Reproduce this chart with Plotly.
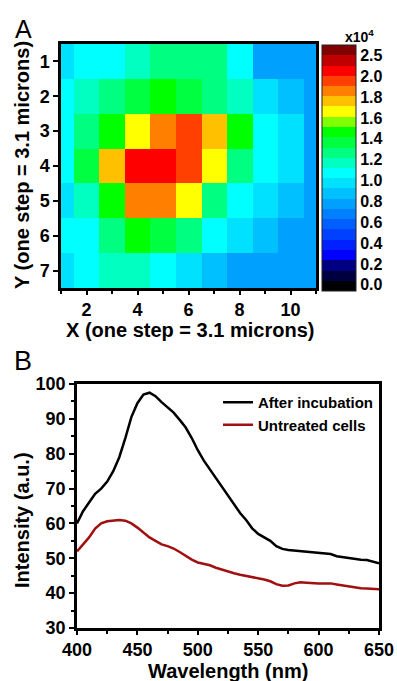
import plotly.graph_objects as go

# ---------------- Panel A data (intensity, x10^4) ----------------
grid_x = [1, 2, 3, 4, 5, 6, 7, 8, 9, 10, 11]
grid_y = [1, 2, 3, 4, 5, 6, 7]
intensity_map = [
    [0.97, 1.07, 1.07, 1.17, 1.27, 1.27, 1.27, 1.07, 0.78, 0.78, 0.78],
    [1.07, 1.17, 1.27, 1.37, 1.46, 1.37, 1.27, 1.17, 0.97, 0.87, 0.78],
    [1.07, 1.27, 1.46, 1.66, 1.86, 1.96, 1.76, 1.46, 1.07, 0.97, 0.78],
    [1.07, 1.37, 1.76, 2.05, 2.05, 1.96, 1.66, 1.27, 1.07, 0.97, 0.78],
    [0.97, 1.17, 1.46, 1.86, 1.86, 1.66, 1.27, 1.07, 0.97, 0.87, 0.78],
    [1.07, 1.07, 1.27, 1.46, 1.37, 1.27, 1.07, 0.97, 0.87, 0.78, 0.78],
    [0.97, 1.07, 1.17, 1.17, 1.07, 0.97, 0.87, 0.78, 0.78, 0.78, 0.78],
]
band_colors = [
    "#000000", "#000040", "#000080", "#0000FF", "#0020FF", "#0040FF",
    "#0060FF", "#0080FF", "#00A0FF", "#00C0FF", "#00E0FF", "#00FFFF",
    "#00FFC0", "#00FF80", "#00FF40", "#00FF00", "#80FF00", "#FFFF00",
    "#FFC000", "#FF8000", "#FF4000", "#FF0000", "#C00000", "#800000",
]
cbar_tickvals = [0.0, 0.2, 0.4, 0.6, 0.8, 1.0, 1.2, 1.4, 1.6, 1.8, 2.0, 2.2]
cbar_ticktext = ["0.0", "0.2", "0.4", "0.6", "0.8", "1.0", "1.2", "1.4", "1.6", "1.8", "2.0", "2.5"]

# ---------------- Panel B data ----------------
wavelength = list(range(400, 651, 5))
after_incubation = [
    60, 63.5, 66, 68.5, 70, 72, 75, 79, 84.5, 90.5, 94.5, 97, 97.5, 96.5, 94.8,
    93.2, 91.8, 89.7, 87.5, 84.5, 81, 78, 75.5, 73, 70.5, 68, 65.5, 63, 61,
    58.6, 57, 56, 55, 53.5, 52.7, 52.4, 52.2, 52.1, 51.9, 51.7, 51.6, 51.4,
    51.2, 50.6, 50.3, 50, 49.8, 49.6, 49.5, 49.1, 48.6,
]
untreated = [
    52, 54, 56, 58.5, 60, 60.6, 60.8, 61, 60.8, 60, 58.8, 57.4, 56, 55, 54,
    53.5, 52.8, 51.8, 50.6, 49.6, 48.8, 48.4, 48, 47.3, 46.7, 46.2, 45.7, 45.3,
    45, 44.7, 44.3, 43.9, 43.4, 42.6, 42.1, 42.2, 42.8, 43.1, 43, 42.8, 42.8,
    42.8, 42.8, 42.5, 42.2, 41.9, 41.6, 41.4, 41.3, 41.2, 41.1,
]

W, H = 397, 681
FONT = "Liberation Sans, Arial, sans-serif"

def px_x(p):
    return p / W

def px_y(p):
    return 1 - p / H

n = len(band_colors)
colorscale = []
for k, c in enumerate(band_colors):
    colorscale.append([k / n, c])
    colorscale.append([(k + 1) / n, c])

fig = go.Figure()

fig.add_trace(go.Heatmap(
    x=grid_x, y=grid_y, z=intensity_map,
    colorscale=colorscale, zmin=-0.06, zmax=2.3, zsmooth=False,
    xaxis="x", yaxis="y",
    colorbar=dict(
        x=px_x(322), xanchor="left", xpad=0,
        y=px_y(45), yanchor="top", ypad=0,
        lenmode="pixels", len=246, thickness=34,
        tickmode="array", tickvals=cbar_tickvals, ticktext=cbar_ticktext,
        ticks="",
        tickfont=dict(family=FONT, size=16, color="black", weight="bold"),
        outlinewidth=1, outlinecolor="#222",
    ),
))

fig.add_trace(go.Scatter(
    x=wavelength, y=after_incubation, mode="lines", name="After incubation",
    line=dict(color="black", width=2.5), xaxis="x2", yaxis="y2",
))
fig.add_trace(go.Scatter(
    x=wavelength, y=untreated, mode="lines", name="Untreated cells",
    line=dict(color="#a01010", width=2.5), xaxis="x2", yaxis="y2",
))

tickfont = dict(family=FONT, size=18, color="black", weight="bold")
axis_common = dict(
    showline=True, linecolor="black", linewidth=2.5, mirror=True,
    ticks="outside", tickwidth=2, tickcolor="black",
    showgrid=False, zeroline=False, tickfont=tickfont, automargin=False,
)

fig.update_layout(
    width=W, height=H,
    margin=dict(l=0, r=0, t=0, b=0, autoexpand=False),
    paper_bgcolor="white", plot_bgcolor="white",
    showlegend=True,
    legend=dict(
        x=px_x(378), xanchor="right", y=px_y(386), yanchor="top",
        bgcolor="rgba(0,0,0,0)", itemwidth=30, tracegroupgap=0,
        font=dict(family=FONT, size=15, color="black", weight="bold"),
    ),
    xaxis=dict(
        domain=[px_x(61), px_x(316)], range=[1, 11],
        tickmode="linear", tick0=2, dtick=2, ticklen=4,
        minor=dict(ticks="outside", ticklen=3, tickwidth=2, tickcolor="black", tick0=1, dtick=1),
        anchor="y", **axis_common,
    ),
    yaxis=dict(
        domain=[px_y(288), px_y(44)], range=[7.5, 0.5],
        tickmode="linear", tick0=1, dtick=1, ticklen=5,
        anchor="x", **axis_common,
    ),
    xaxis2=dict(
        domain=[px_x(77), px_x(379)], range=[400, 650],
        tickmode="linear", tick0=400, dtick=50, ticklen=4,
        minor=dict(ticks="outside", ticklen=3, tickwidth=2, tickcolor="black", tick0=400, dtick=25),
        anchor="y2", **axis_common,
    ),
    yaxis2=dict(
        domain=[px_y(628), px_y(384)], range=[30, 100],
        tickmode="linear", tick0=30, dtick=10, ticklen=5,
        minor=dict(ticks="outside", ticklen=3, tickwidth=2, tickcolor="black", tick0=30, dtick=5),
        anchor="x2", **axis_common,
    ),
)

title_font = dict(family=FONT, size=20, color="black", weight="bold")
ann = [
    dict(text="A", x=px_x(23), y=px_y(29), font=dict(family=FONT, size=25, color="black")),
    dict(text="B", x=px_x(23), y=px_y(361), font=dict(family=FONT, size=27, color="black")),
    dict(text="X (one step = 3.1 microns)", x=px_x(190), y=px_y(330), font=title_font),
    dict(text="Y (one step = 3.1 microns)", x=px_x(22), y=px_y(165), textangle=-90, font=title_font),
    dict(text="Intensity (a.u.)", x=px_x(22), y=px_y(520), textangle=-90, font=title_font),
    dict(text="Wavelength (nm)", x=px_x(228), y=px_y(670.5), font=title_font),
    dict(text="x10<sup>4</sup>", x=px_x(359), y=px_y(36),
         font=dict(family=FONT, size=14, color="black", weight="bold")),
]
for a in ann:
    a.update(xref="paper", yref="paper", showarrow=False, xanchor="center", yanchor="middle")
fig.update_layout(annotations=ann)

fig.write_html(
    "out.html",
    config={"displayModeBar": False},
    post_script="document.body.style.margin='0';document.body.style.overflow='hidden';",
)
